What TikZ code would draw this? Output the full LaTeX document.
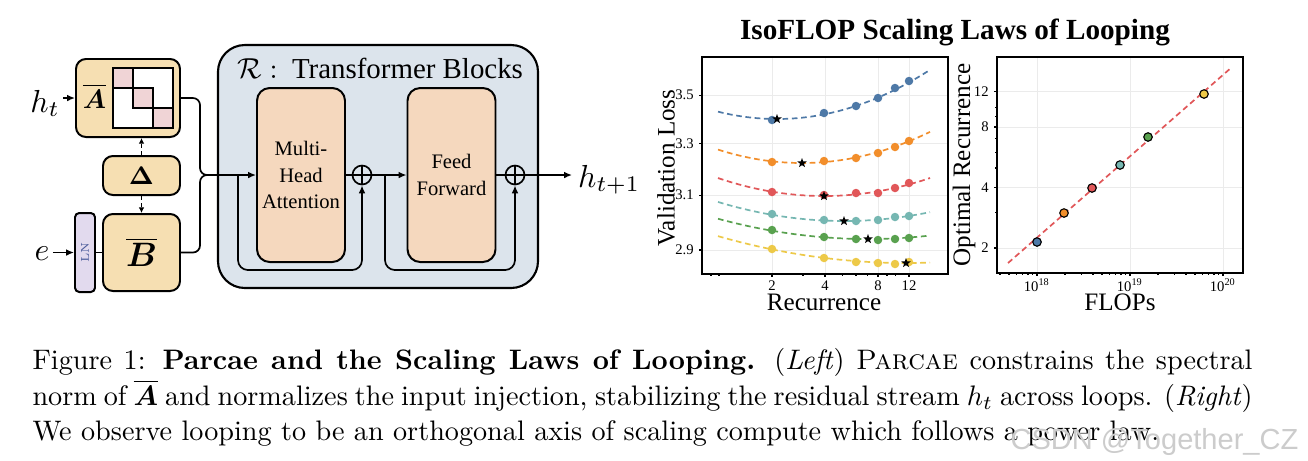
\RequirePackage{fix-cm}
\documentclass[tikz,border=0pt]{standalone}
\usepackage{fontspec}
\usepackage{bm}
\usepackage{graphicx}
\usetikzlibrary{arrows.meta,shapes.geometric}
\newfontfamily\tnr{Liberation Serif}
\newfontfamily\wmfont{Liberation Sans}
\newdimen\unitpx \unitpx=0.3546pt
\definecolor{wheatbox}{HTML}{F6DFB2}
\definecolor{pinkblk}{HTML}{F0D4D6}
\definecolor{lnpurple}{HTML}{E2DAEE}
\definecolor{lntext}{HTML}{4A5A9A}
\definecolor{tblue}{HTML}{DCE4EC}
\definecolor{peach}{HTML}{F5D8BE}
\definecolor{gridgray}{HTML}{EBEBEB}
\definecolor{tabblue}{HTML}{4E79A7}
\definecolor{taborange}{HTML}{F28E2B}
\definecolor{tabred}{HTML}{E15759}
\definecolor{tabteal}{HTML}{76B7B2}
\definecolor{tabgreen}{HTML}{59A14F}
\definecolor{tabyellow}{HTML}{EDC948}
\begin{document}
\begin{tikzpicture}[x=0.3546pt,y=-0.3546pt,
	wbox/.style={draw, line width=0.7pt, rounded corners=3.5pt, fill=wheatbox, inner sep=0},
	blk/.style={draw, line width=0.7pt, rounded corners=4.5pt, fill=peach, minimum width=88*\unitpx, minimum height=174*\unitpx, align=center, font=\tnr\fontsize{7.3}{9.3}\selectfont, inner sep=0},
	wire/.style={line width=0.6pt},
	arr/.style={line width=0.6pt, -{Latex[length=2.8pt,width=2.4pt]}},
	dasharr/.style={line width=0.6pt, dash pattern=on 1.5pt off 1pt, -{Latex[length=2pt,width=2pt]}},
	sumnode/.style={circle, draw, line width=0.6pt, minimum size=19*\unitpx, inner sep=0,
		path picture={\draw[line width=0.6pt] (path picture bounding box.north) -- (path picture bounding box.south)
			(path picture bounding box.west) -- (path picture bounding box.east);}},
	gridln/.style={draw=gridgray, line width=0.35pt},
	tickln/.style={line width=0.4pt},
	fitcurve/.style={line width=0.6pt, dash pattern=on 2pt off 1.3pt},
	ptdot/.style={circle, inner sep=0, minimum size=8.5*\unitpx},
	beststar/.style={star, star points=5, star point ratio=2.4, fill=black, inner sep=0, minimum size=10*\unitpx},
	ticklab/.style={font=\tnr\fontsize{5.2}{6}\selectfont, inner sep=1pt},
	axlab/.style={font=\tnr\fontsize{8.9}{10}\selectfont, inner sep=0}]

	\fill[white] (0,0) rectangle (1308,460);
	\useasboundingbox (0,0) rectangle (1308,460);

	% left: input side
	\node[wbox, minimum width=104*\unitpx, minimum height=78*\unitpx] (Abox) at (128,98) {};
	\node[inner sep=0] (Alab) at (94.5,96) {\fontsize{9.5}{10}\selectfont$\overline{\bm{A}}$};
	\draw[line width=0.7pt, fill=white] (113,68) rectangle (173,128);
	\foreach \i in {0,1,2}{
		\filldraw[fill=pinkblk, line width=0.7pt] (113+20*\i,68+20*\i) rectangle ++(20,20);
		}
	\node[wbox, minimum width=77*\unitpx, minimum height=39*\unitpx] (Dbox) at (141.5,175.5) {\fontsize{9}{9}\selectfont$\bm{\Delta}$};
	\node[wbox, minimum width=77*\unitpx, minimum height=77*\unitpx] (Bbox) at (141.5,252.5) {\fontsize{12}{12}\selectfont$\overline{\bm{B}}$};
	\node[draw, line width=0.7pt, rounded corners=1.5pt, fill=lnpurple, minimum width=20*\unitpx, minimum height=79*\unitpx, inner sep=0] (LN) at (85,252.5) {\rotatebox{90}{\fontsize{4}{4}\selectfont\color{lntext}LN}};

	\node[anchor=base, inner sep=1pt, font=\fontsize{11.3}{12}\selectfont] (ht) at (45,112) {$h_t$};
	\node[anchor=base, inner sep=1pt, font=\fontsize{11.3}{12}\selectfont] (ein) at (42,260) {$e$};
	\draw[arr] (ht.east |- Abox.west) -- (Abox.west);
	\draw[arr] (ein.east |- LN.west) -- (LN.west);
	\draw[wire] (LN) -- (Bbox);
	\draw[dasharr] (Dbox.north) -- (Dbox.north |- Abox.south);
	\draw[dasharr] (Dbox.south) -- (Bbox.north);

	% transformer blocks
	\node[draw, line width=0.75pt, rounded corners=9.5pt, fill=tblue, minimum width=320*\unitpx, minimum height=243*\unitpx] (Tbox) at (378,166.5) {};
	\node[anchor=base, inner sep=0, font=\tnr\fontsize{10.25}{12}\selectfont] (Ttl) at (380,78) {$\mathcal{R}:$\enspace Transformer Blocks};
	\node[blk] (MHA) at (301,175) {Multi-\\Head\\Attention};
	\node[blk] (FF) at (451.5,175) {Feed\\Forward};
	\node[sumnode] (p1) at (362,175) {};
	\node[sumnode] (p2) at (515,175) {};
	\node[anchor=base west, inner sep=2pt, font=\fontsize{11.3}{12}\selectfont] (out) at (572,187) {$h_{t+1}$};

	\coordinate (join) at (200,175);
	\coordinate (s1) at (238,175);
	\coordinate (b1) at (238,270);
	\coordinate (s2) at (385,175);
	\coordinate (b2) at (385,270);

	\draw[wire, rounded corners=2.5pt] (Abox.east) -| (join) -- (s1);
	\draw[wire, rounded corners=2.5pt] (Bbox.east) -| (join) -- (s1);
	\draw[arr] (s1) -- (MHA.west);
	\draw[arr, rounded corners=3.5pt] (s1) -- (b1) -| (p1.south);
	\draw[wire] (MHA.east) -- (p1.west);
	\draw[arr] (p1.east) -- (FF.west);
	\draw[arr, rounded corners=3.5pt] (s2) -- (b2) -| (p2.south);
	\draw[wire] (FF.east) -- (p2.west);
	\draw[arr] (p2.east) -- (p2.east -| out.west);

	% right: isoflop plots
	\node[inner sep=0, font=\tnr\bfseries\fontsize{10.35}{12}\selectfont] (title) at (955,32) {IsoFLOP Scaling Laws of Looping};

	% loss vs recurrence
	\foreach \r in {2,4,8,12}{
		\pgfmathsetmacro\xx{772+53*log2(\r/2)}
		\draw[gridln] (\xx,57) -- (\xx,274);
		\draw[tickln] (\xx,274) -- (\xx,277);
		\node[ticklab, anchor=north] (xa\r) at (\xx,277) {\r};
		}
	\foreach \r in {0.9,1,3,5,6,7,9,10}{
		\pgfmathsetmacro\xx{772+53*log2(\r/2)}
		\draw[tickln] (\xx,274) -- (\xx,276);
		}
	\foreach \v in {3.5,3.3,3.1,2.9}{
		\pgfmathsetmacro\yy{1127.3-824*ln(\v)}
		\draw[gridln] (702,\yy) -- (948,\yy);
		\draw[tickln] (702,\yy) -- (699,\yy);
		\node[ticklab, anchor=east] (ya\v) at (697,\yy) {\v};
		}
	\foreach \col/\xs/\ys/\kk/\ya/\yb/\yc/\yd/\ye/\yf in {
		tabblue/777/119/21/120/113/106/98/88/81,
		taborange/802/163/19/162/161/158/153/147/141,
		tabred/824/196/16/192/195/193/193/188/183,
		tabteal/844/221/12/214/220/221/220/217/216,
		tabgreen/868/239/9/230/237/239/240/239/238,
		tabyellow/906/263/7.6/249/258/262/263/264/262}{
		\draw[fitcurve, \col] plot[domain=718:930, samples=50] (\x,{\ys-(\x-\xs)/100*(\x-\xs)/100*\kk});
		\foreach \xx/\yy in {772/\ya,824/\yb,856/\yc,878/\yd,895/\ye,909/\yf}{
			\node[ptdot, fill=\col] (d\col\xx) at (\xx,\yy) {};
			}
		\node[beststar] (st\col) at (\xs,\ys) {};
		}
	\draw[line width=0.6pt] (702,57) rectangle (948,274);
	\node[axlab, rotate=90] (ylab1) at (666,168) {Validation Loss};
	\node[axlab] (xlab1) at (824,302) {Recurrence};

	% optimal recurrence vs flops
	\foreach \d in {18,19,20}{
		\pgfmathsetmacro\xx{1037+93*(\d-18)}
		\draw[gridln] (\xx,57) -- (\xx,273);
		\draw[tickln] (\xx,273) -- (\xx,276);
		\node[ticklab, anchor=north] (xb\d) at (\xx,275) {10\textsuperscript{\d}};
		}
	\foreach \d in {17,18,19}{
		\foreach \m in {2,...,9}{
			\pgfmathsetmacro\xx{1037+93*(\d-18+log10(\m))}
			\ifdim\xx pt>998pt \ifdim\xx pt<1242pt
				\draw[tickln] (\xx,273) -- (\xx,275);
			\fi\fi
			}
		}
	\foreach \r in {2,4,8,12}{
		\pgfmathsetmacro\yy{248-60.5*log2(\r/2)}
		\draw[gridln] (997,\yy) -- (1243,\yy);
		\draw[tickln] (997,\yy) -- (994,\yy);
		\node[ticklab, anchor=east] (yb\r) at (992,\yy) {\r};
		}
	\foreach \r in {3,5,6,7,9,10}{
		\pgfmathsetmacro\yy{248-60.5*log2(\r/2)}
		\draw[tickln] (997,\yy) -- (995,\yy);
		}
	\draw[tabred, line width=0.6pt, dash pattern=on 2pt off 1.3pt] (1008,263) -- (1232,67);
	\foreach \col/\xx/\yy in {tabblue/1037/242,taborange/1064/213,tabred/1092/188,tabteal/1120/165,tabgreen/1148/137,tabyellow/1204/94}{
		\node[ptdot, fill=\col, draw=black, line width=0.4pt] (q\col) at (\xx,\yy) {};
		}
	\draw[line width=0.6pt] (997,57) rectangle (1243,273);
	\node[axlab, rotate=90] (ylab2) at (964,165) {Optimal Recurrence};
	\node[axlab] (xlab2) at (1120,302) {FLOPs};

	% caption
	\node[anchor=base west, inner sep=0] (cap1) at (32,369) {\makebox[1220\unitpx][s]{Figure 1: \textbf{Parcae and the Scaling Laws of Looping.} (\textit{Left}) \textsc{Parcae} constrains the spectral}};
	\node[anchor=base west, inner sep=0] (cap2) at (32,405) {\makebox[1220\unitpx][s]{norm of $\overline{\bm{A}}$ and normalizes the input injection, stabilizing the residual stream $h_t$ across loops. (\textit{Right})}};
	\node[anchor=base west, inner sep=0] (cap3) at (32,440) {We observe looping to be an orthogonal axis of scaling compute which follows a power law.};
	\node[anchor=base west, inner sep=0, text=gray!40, font=\wmfont\fontsize{10.3}{12}\selectfont] (wm) at (1010,449) {CSDN @Together\_CZ};
\end{tikzpicture}
\end{document}
